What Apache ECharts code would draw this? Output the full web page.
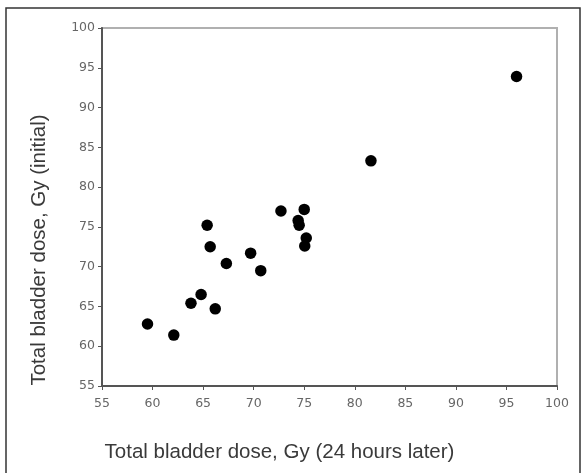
<!DOCTYPE html>
<html>
<head>
<meta charset="utf-8">
<script src="https://cdn.jsdelivr.net/npm/echarts@6/dist/echarts.min.js"></script>
<style>
  html, body { margin: 0; padding: 0; background: #fff; }
  #chart { width: 584px; height: 473px; }
</style>
</head>
<body>
<div id="chart"></div>
<script>
// dose 24 hours later (x) vs initial dose (y), Gy
var laterDose   = [59.5, 62.1, 63.8, 64.8, 66.2, 65.4, 65.7, 67.3, 69.7, 70.7, 72.7, 75.0, 74.4, 74.5, 75.2, 75.05, 81.6, 96.0];
var initialDose = [62.8, 61.4, 65.4, 66.5, 64.7, 75.2, 72.5, 70.4, 71.7, 69.5, 77.0, 77.2, 75.8, 75.2, 73.6, 72.6, 83.3, 93.9];
var tickMin = 55, tickMax = 100, tickStep = 5;

var points = [];
for (var i = 0; i < laterDose.length; i++) {
  points.push([laterDose[i], initialDose[i]]);
}

var chart = echarts.init(document.getElementById('chart'));
chart.setOption({
  animation: false,
  textStyle: { fontFamily: 'Liberation Sans, Arial, sans-serif' },
  graphic: [{
    type: 'rect',
    shape: { x: 6, y: 8, width: 574, height: 480 },
    style: { fill: 'none', stroke: '#333', lineWidth: 1.5 },
    z: -10
  }],
  grid: {
    left: 102, right: 27, top: 28, bottom: 87,
    show: true, borderColor: '#b0b0b0', borderWidth: 2
  },
  xAxis: {
    type: 'value', min: tickMin, max: tickMax, interval: tickStep,
    name: 'Total bladder dose, Gy (24 hours later)',
    nameLocation: 'middle', nameGap: 56,
    nameTextStyle: { fontSize: 20.5, color: '#3a3a3a', padding: [0, 100, 0, 0] },
    axisLine: { lineStyle: { color: '#555', width: 2 } },
    axisTick: { length: 4, lineStyle: { color: '#555' } },
    axisLabel: { fontSize: 12.5, fontFamily: 'DejaVu Sans', color: '#666', margin: 11 },
    splitLine: { show: false }
  },
  yAxis: {
    type: 'value', min: tickMin, max: tickMax, interval: tickStep,
    name: 'Total bladder dose, Gy (initial)',
    nameLocation: 'middle', nameGap: 52,
    nameTextStyle: { fontSize: 20.5, color: '#3a3a3a', padding: [0, 86, 0, 0] },
    axisLine: { show: true, lineStyle: { color: '#555', width: 2 } },
    axisTick: { show: true, length: 4, lineStyle: { color: '#555' } },
    axisLabel: { fontSize: 12.5, fontFamily: 'DejaVu Sans', color: '#666', margin: 7 },
    splitLine: { show: false }
  },
  series: [{
    type: 'scatter',
    symbol: 'circle',
    symbolSize: 11.5,
    itemStyle: { color: '#000', opacity: 1 },
    data: points
  }]
});
</script>
</body>
</html>
